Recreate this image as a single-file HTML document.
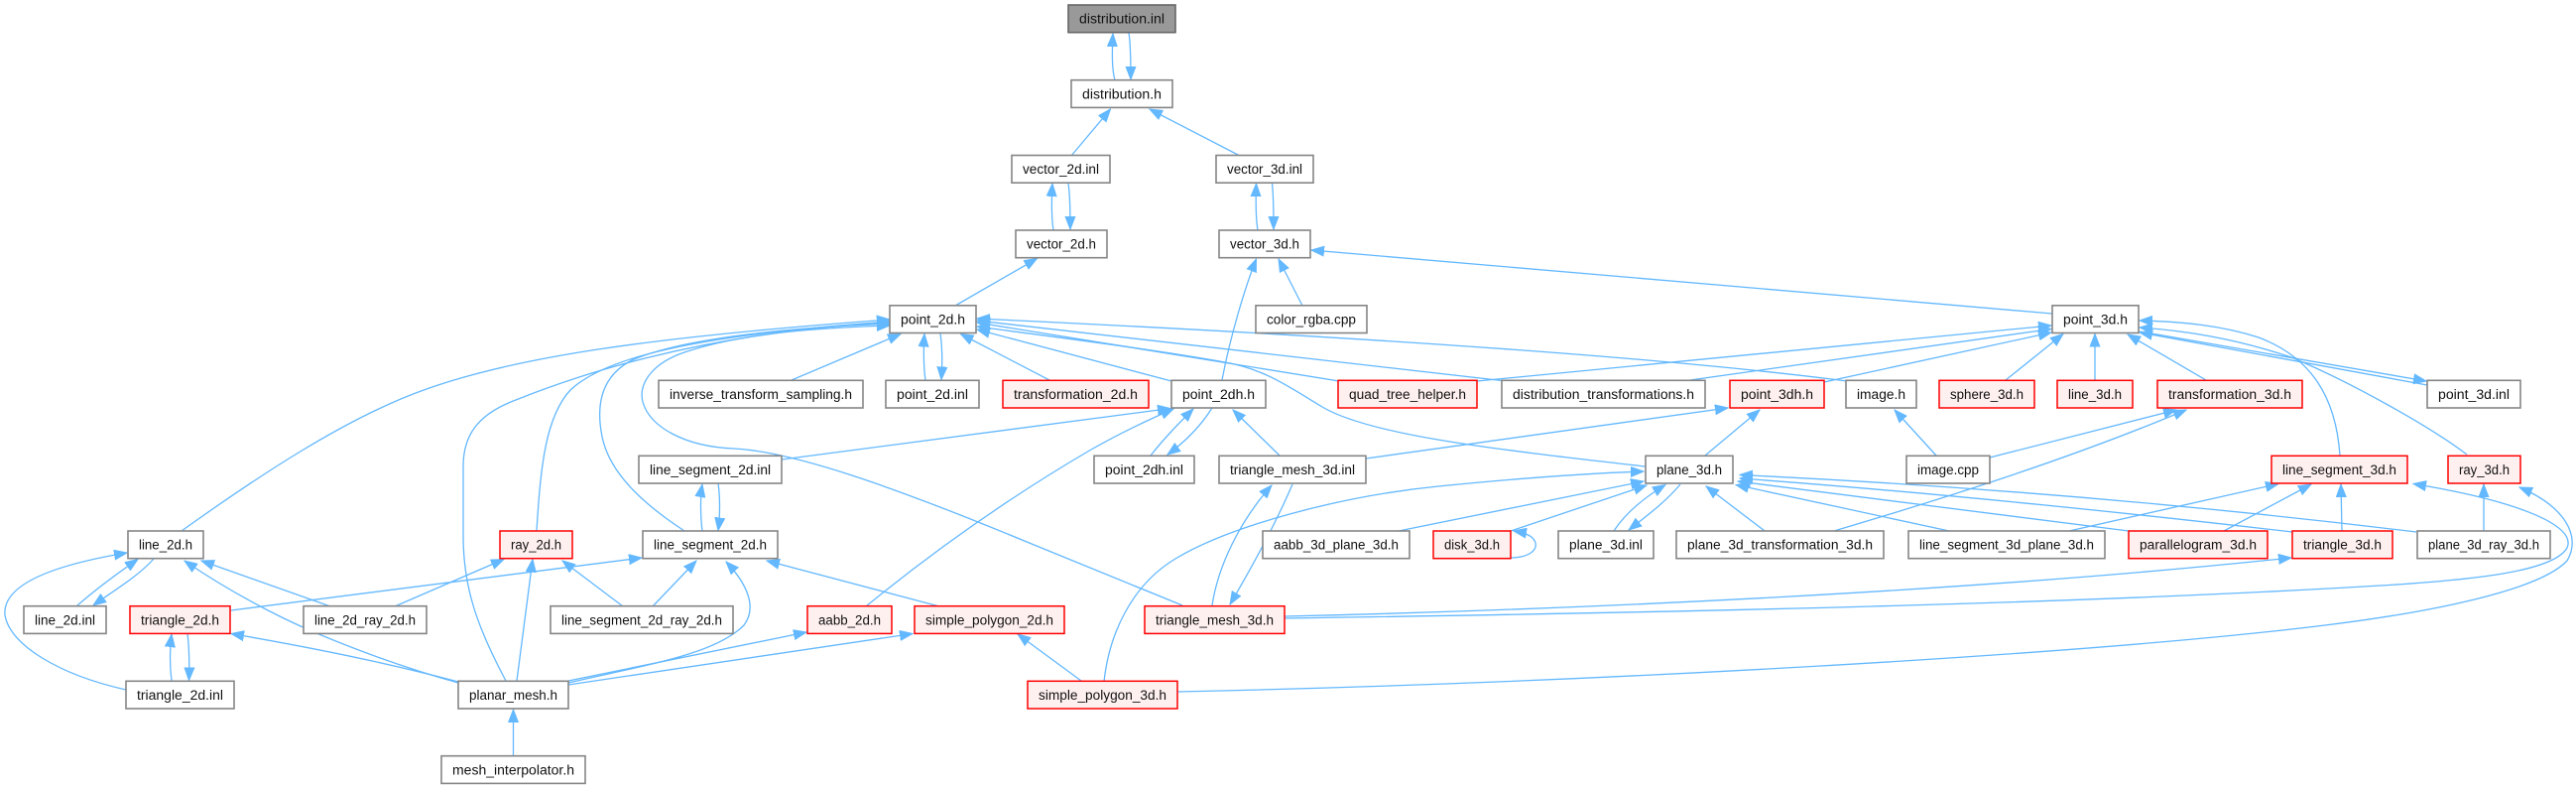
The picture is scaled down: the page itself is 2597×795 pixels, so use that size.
<!DOCTYPE html>
<html><head><meta charset="utf-8"><style>
html,body{margin:0;padding:0;background:#fff;}
svg{display:block;}
text{font-family:"Liberation Sans",Arial,sans-serif;font-size:13.5px;fill:#111;}
.e{fill:none;stroke:#63b8ff;stroke-width:1.3;marker-end:url(#a);}
.n{fill:none;stroke:#63b8ff;stroke-width:1.3;}
.b{fill:#fff;stroke:#858585;stroke-width:1.6;}
.r{fill:#fff0f0;stroke:#ff0000;stroke-width:1.5;}
.g{fill:#999;stroke:#666;stroke-width:1.6;}
</style></head><body>
<svg width="2597" height="795" viewBox="0 0 2597 795" xmlns="http://www.w3.org/2000/svg">
<defs>
<marker id="a" markerUnits="userSpaceOnUse" markerWidth="14" markerHeight="11" refX="13" refY="5.5" orient="auto">
<path d="M0,0.5 L13,5.5 L0,10.5 z" fill="#63b8ff" stroke="#63b8ff" stroke-width="1"/>
</marker>
</defs>
<!-- edges -->
<path class="e" d="M1124,81 C1121,70 1121,55 1122,34"/>
<path class="e" d="M1138,33 C1140,45 1140,65 1140,80"/>
<path class="e" d="M1080,157 L1119.5,110"/>
<path class="e" d="M1250,157 L1159,110"/>
<path class="e" d="M1062,232 C1060,220 1060,200 1061,185"/>
<path class="e" d="M1077,185 C1079,198 1079,215 1079,231"/>
<path class="e" d="M1268,232 C1266,220 1266,200 1266.5,185"/>
<path class="e" d="M1282.5,185 C1284,198 1284,215 1284,231"/>
<path class="e" d="M2069,316 L1322,252"/>
<path class="e" d="M963,308 L1045.5,260.5"/>
<path class="e" d="M1232,383 C1240,340 1255,290 1266.5,261"/>
<path class="e" d="M1313,308 L1289,261"/>
<path class="e" d="M798,383 L908,336.5"/>
<path class="e" d="M933,383 C931,370 931,350 932,336.5"/>
<path class="e" d="M948,336 C950,350 950,368 949,382.5"/>
<path class="e" d="M1058,383 L968.5,336.5"/>
<path class="e" d="M1181,384 L985,332"/>
<path class="e" d="M1350,384 L985,325"/>
<path class="e" d="M1514,383.5 L985,323"/>
<path class="e" d="M1862,384 Q1600,350 985,321"/>
<path class="e" d="M1659,470 C1500,452 1380,438 1333,410 C1300,390 1275,372 1235,365 C1150,350 1050,338 985,329"/>
<path class="e" d="M1192,610 L1040,548 C900,490 800,455 740,452 C690,450 655,430 648,405 C643,385 660,365 690,355 C750,335 830,330 897,328"/>
<path class="e" d="M690,535 C655,512 615,480 607,440 C600,405 608,378 637,363 C690,340 800,330 897,326"/>
<path class="e" d="M541,535 C545,470 550,420 575,393 C610,360 700,338 897,324"/>
<path class="e" d="M510,686 C480,630 467,590 467,540 L467,470 C467,440 480,418 520,403 C570,383 700,335 897,325"/>
<path class="e" d="M183,535 C260,480 350,420 430,392 C520,360 650,340 897,322"/>
<path class="e" d="M77,611 C95,595 118,578 139,563.5"/>
<path class="e" d="M155,563 C140,580 115,595 94,610"/>
<path class="e" d="M127,695 C60,680 10,650 5,620 C2,590 50,570 128,557"/>
<path class="e" d="M333,611 L203,565"/>
<path class="e" d="M462,688 C390,668 320,640 280,620 C250,605 215,585 186,565"/>
<path class="e" d="M462,687 C380,665 300,650 233,638.5"/>
<path class="e" d="M173,686 C171,670 171,655 173,639"/>
<path class="e" d="M189,638 C191,655 191,670 190.5,685.5"/>
<path class="e" d="M233,615 L647,562"/>
<path class="e" d="M398,611 L508,563.5"/>
<path class="e" d="M708,535 C706,520 706,500 708,488"/>
<path class="e" d="M724,487 C726,500 726,520 724,534.5"/>
<path class="e" d="M628,611 L567,565"/>
<path class="e" d="M658,611 L702,565"/>
<path class="e" d="M521,686 L537,563.5"/>
<path class="e" d="M573,688 C650,670 720,660 750,630 C765,610 750,585 732,566"/>
<path class="e" d="M573,686 L813,637"/>
<path class="e" d="M573,690 L920,638.5"/>
<path class="e" d="M947,611 L773,565"/>
<path class="e" d="M873,611 C960,540 1040,488 1100,453 C1130,436 1160,422 1183,412"/>
<path class="e" d="M788,463 L1180,411.5"/>
<path class="e" d="M517.5,762 L517.5,715"/>
<path class="e" d="M1090,686 L1026,639"/>
<path class="e" d="M1160,459 C1175,440 1190,425 1203,412"/>
<path class="e" d="M1222,411 C1210,430 1195,445 1177,458"/>
<path class="e" d="M1290,459 L1243,413"/>
<path class="e" d="M1222,610 C1228,570 1250,525 1282,489"/>
<path class="e" d="M1303,488 C1285,530 1260,575 1240,609"/>
<path class="e" d="M1377,462 L1742,411"/>
<path class="e" d="M1719,459 L1774,413"/>
<path class="e" d="M1952,459 L1910,413"/>
<path class="e" d="M2006,461 L2194,413"/>
<path class="e" d="M1849,535 C1950,505 2080,465 2204,413"/>
<path class="e" d="M1489,384 L2068,328"/>
<path class="e" d="M1704,383 L2068,331.5"/>
<path class="e" d="M1839,385 L2068,335"/>
<path class="e" d="M2022,383 L2080,336.5"/>
<path class="e" d="M2112,383 L2112,336.5"/>
<path class="e" d="M2224,383 L2145,337"/>
<path class="e" d="M2359,459 C2355,400 2330,360 2277,340 C2240,328 2200,324 2157,323"/>
<path class="e" d="M2487,458 C2450,430 2370,385 2310,360 C2250,340 2200,333 2157,330"/>
<path class="e" d="M2157,334 L2446,384"/>
<path class="e" d="M2447,388 L2157,335"/>
<path class="e" d="M2086,535 L2297,487.5"/>
<path class="e" d="M2242,535 L2330,488"/>
<path class="e" d="M2361,535 L2360,488"/>
<path class="e" d="M2504,535 L2504,488"/>
<path class="e" d="M1295,621 C1600,614 2000,595 2310,562"/>
<path class="e" d="M1295,623 C1700,617 2100,608 2400,590 C2500,584 2575,575 2588,552 C2598,530 2540,505 2433,487.5"/>
<path class="e" d="M1187,697 C1600,688 2100,660 2344,630 C2450,617 2560,595 2588,565 C2603,540 2585,510 2540,491"/>
<path class="e" d="M1113,687 C1118,640 1140,590 1185,563 C1240,530 1350,500 1450,490 C1530,482 1600,477 1657,475"/>
<path class="e" d="M1410,535 L1657,485"/>
<path class="e" d="M1523,535 L1660,489"/>
<path class="e" d="M1523,562 C1540,562 1550,555 1548,547 C1546,540 1538,537 1526,535"/>
<path class="e" d="M1627,535 C1640,515 1660,500 1679,488.5"/>
<path class="e" d="M1694,488 C1680,505 1660,520 1642,534"/>
<path class="e" d="M1779,535 L1720,490"/>
<path class="e" d="M1965,535 L1750,488.5"/>
<path class="e" d="M2146,535 L1752,485"/>
<path class="e" d="M2311,536 Q2000,500 1754,482"/>
<path class="e" d="M2436,536 Q2100,495 1754,478.5"/>

<!-- nodes -->
<g>
<rect class="g" x="1077" y="5" width="108" height="27.7"/><text x="1131" y="23.7" text-anchor="middle" textLength="86" lengthAdjust="spacingAndGlyphs">distribution.inl</text>
<rect class="b" x="1080" y="80.7" width="102" height="27.7"/><text x="1131" y="99.4" text-anchor="middle" textLength="80" lengthAdjust="spacingAndGlyphs">distribution.h</text>
<rect class="b" x="1020" y="156.5" width="99" height="27.7"/><text x="1069.5" y="175.2" text-anchor="middle" textLength="77" lengthAdjust="spacingAndGlyphs">vector_2d.inl</text>
<rect class="b" x="1226" y="156.5" width="98" height="27.7"/><text x="1275" y="175.2" text-anchor="middle" textLength="76" lengthAdjust="spacingAndGlyphs">vector_3d.inl</text>
<rect class="b" x="1024" y="232" width="92" height="27.7"/><text x="1070" y="250.7" text-anchor="middle" textLength="70" lengthAdjust="spacingAndGlyphs">vector_2d.h</text>
<rect class="b" x="1229" y="232" width="92" height="27.7"/><text x="1275" y="250.7" text-anchor="middle" textLength="70" lengthAdjust="spacingAndGlyphs">vector_3d.h</text>
<rect class="b" x="897" y="307.8" width="87" height="27.7"/><text x="940.5" y="326.5" text-anchor="middle" textLength="65" lengthAdjust="spacingAndGlyphs">point_2d.h</text>
<rect class="b" x="1266" y="307.8" width="112" height="27.7"/><text x="1322" y="326.5" text-anchor="middle" textLength="90" lengthAdjust="spacingAndGlyphs">color_rgba.cpp</text>
<rect class="b" x="2069" y="307.8" width="87" height="27.7"/><text x="2112.5" y="326.5" text-anchor="middle" textLength="65" lengthAdjust="spacingAndGlyphs">point_3d.h</text>

<rect class="b" x="664" y="383.3" width="206" height="27.7"/><text x="767" y="402" text-anchor="middle" textLength="184" lengthAdjust="spacingAndGlyphs">inverse_transform_sampling.h</text>
<rect class="b" x="893" y="383.3" width="94" height="27.7"/><text x="940" y="402" text-anchor="middle" textLength="72" lengthAdjust="spacingAndGlyphs">point_2d.inl</text>
<rect class="r" x="1011" y="383.3" width="147" height="27.7"/><text x="1084.5" y="402" text-anchor="middle" textLength="125" lengthAdjust="spacingAndGlyphs">transformation_2d.h</text>
<rect class="b" x="1181" y="383.3" width="95" height="27.7"/><text x="1228.5" y="402" text-anchor="middle" textLength="73" lengthAdjust="spacingAndGlyphs">point_2dh.h</text>
<rect class="r" x="1349" y="383.3" width="140" height="27.7"/><text x="1419" y="402" text-anchor="middle" textLength="118" lengthAdjust="spacingAndGlyphs">quad_tree_helper.h</text>
<rect class="b" x="1514" y="383.3" width="205" height="27.7"/><text x="1616.5" y="402" text-anchor="middle" textLength="183" lengthAdjust="spacingAndGlyphs">distribution_transformations.h</text>
<rect class="r" x="1744" y="383.3" width="95" height="27.7"/><text x="1791.5" y="402" text-anchor="middle" textLength="73" lengthAdjust="spacingAndGlyphs">point_3dh.h</text>
<rect class="b" x="1861" y="383.3" width="71" height="27.7"/><text x="1896.5" y="402" text-anchor="middle" textLength="49" lengthAdjust="spacingAndGlyphs">image.h</text>
<rect class="r" x="1955" y="383.3" width="96" height="27.7"/><text x="2003" y="402" text-anchor="middle" textLength="74" lengthAdjust="spacingAndGlyphs">sphere_3d.h</text>
<rect class="r" x="2074" y="383.3" width="76" height="27.7"/><text x="2112" y="402" text-anchor="middle" textLength="54" lengthAdjust="spacingAndGlyphs">line_3d.h</text>
<rect class="r" x="2175" y="383.3" width="146" height="27.7"/><text x="2248" y="402" text-anchor="middle" textLength="124" lengthAdjust="spacingAndGlyphs">transformation_3d.h</text>
<rect class="b" x="2447" y="383.3" width="94" height="27.7"/><text x="2494" y="402" text-anchor="middle" textLength="72" lengthAdjust="spacingAndGlyphs">point_3d.inl</text>

<rect class="b" x="644" y="459.3" width="144" height="27.7"/><text x="716" y="478" text-anchor="middle" textLength="122" lengthAdjust="spacingAndGlyphs">line_segment_2d.inl</text>
<rect class="b" x="1103" y="459.3" width="101" height="27.7"/><text x="1153.5" y="478" text-anchor="middle" textLength="79" lengthAdjust="spacingAndGlyphs">point_2dh.inl</text>
<rect class="b" x="1229" y="459.3" width="148" height="27.7"/><text x="1303" y="478" text-anchor="middle" textLength="126" lengthAdjust="spacingAndGlyphs">triangle_mesh_3d.inl</text>
<rect class="b" x="1659" y="459.3" width="88" height="27.7"/><text x="1703" y="478" text-anchor="middle" textLength="66" lengthAdjust="spacingAndGlyphs">plane_3d.h</text>
<rect class="b" x="1922" y="459.3" width="84" height="27.7"/><text x="1964" y="478" text-anchor="middle" textLength="62" lengthAdjust="spacingAndGlyphs">image.cpp</text>
<rect class="r" x="2290" y="459.3" width="137" height="27.7"/><text x="2358.5" y="478" text-anchor="middle" textLength="115" lengthAdjust="spacingAndGlyphs">line_segment_3d.h</text>
<rect class="r" x="2468" y="459.3" width="73" height="27.7"/><text x="2504.5" y="478" text-anchor="middle" textLength="51" lengthAdjust="spacingAndGlyphs">ray_3d.h</text>

<rect class="b" x="129" y="535" width="76" height="27.7"/><text x="167" y="553.7" text-anchor="middle" textLength="54" lengthAdjust="spacingAndGlyphs">line_2d.h</text>
<rect class="r" x="504" y="535" width="73" height="27.7"/><text x="540.5" y="553.7" text-anchor="middle" textLength="51" lengthAdjust="spacingAndGlyphs">ray_2d.h</text>
<rect class="b" x="648" y="535" width="136" height="27.7"/><text x="716" y="553.7" text-anchor="middle" textLength="114" lengthAdjust="spacingAndGlyphs">line_segment_2d.h</text>
<rect class="b" x="1273" y="535" width="148" height="27.7"/><text x="1347" y="553.7" text-anchor="middle" textLength="126" lengthAdjust="spacingAndGlyphs">aabb_3d_plane_3d.h</text>
<rect class="r" x="1445" y="535" width="78" height="27.7"/><text x="1484" y="553.7" text-anchor="middle" textLength="56" lengthAdjust="spacingAndGlyphs">disk_3d.h</text>
<rect class="b" x="1571" y="535" width="96" height="27.7"/><text x="1619" y="553.7" text-anchor="middle" textLength="74" lengthAdjust="spacingAndGlyphs">plane_3d.inl</text>
<rect class="b" x="1690" y="535" width="209" height="27.7"/><text x="1794.5" y="553.7" text-anchor="middle" textLength="187" lengthAdjust="spacingAndGlyphs">plane_3d_transformation_3d.h</text>
<rect class="b" x="1924" y="535" width="198" height="27.7"/><text x="2023" y="553.7" text-anchor="middle" textLength="176" lengthAdjust="spacingAndGlyphs">line_segment_3d_plane_3d.h</text>
<rect class="r" x="2146" y="535" width="140" height="27.7"/><text x="2216" y="553.7" text-anchor="middle" textLength="118" lengthAdjust="spacingAndGlyphs">parallelogram_3d.h</text>
<rect class="r" x="2311" y="535" width="101" height="27.7"/><text x="2361.5" y="553.7" text-anchor="middle" textLength="79" lengthAdjust="spacingAndGlyphs">triangle_3d.h</text>
<rect class="b" x="2437" y="535" width="134" height="27.7"/><text x="2504" y="553.7" text-anchor="middle" textLength="112" lengthAdjust="spacingAndGlyphs">plane_3d_ray_3d.h</text>

<rect class="b" x="24" y="610.7" width="83" height="27.7"/><text x="65.5" y="629.4" text-anchor="middle" textLength="61" lengthAdjust="spacingAndGlyphs">line_2d.inl</text>
<rect class="r" x="131" y="610.7" width="101" height="27.7"/><text x="181.5" y="629.4" text-anchor="middle" textLength="79" lengthAdjust="spacingAndGlyphs">triangle_2d.h</text>
<rect class="b" x="306" y="610.7" width="124" height="27.7"/><text x="368" y="629.4" text-anchor="middle" textLength="102" lengthAdjust="spacingAndGlyphs">line_2d_ray_2d.h</text>
<rect class="b" x="555" y="610.7" width="184" height="27.7"/><text x="647" y="629.4" text-anchor="middle" textLength="162" lengthAdjust="spacingAndGlyphs">line_segment_2d_ray_2d.h</text>
<rect class="r" x="814" y="610.7" width="85" height="27.7"/><text x="856.5" y="629.4" text-anchor="middle" textLength="63" lengthAdjust="spacingAndGlyphs">aabb_2d.h</text>
<rect class="r" x="922" y="610.7" width="151" height="27.7"/><text x="997.5" y="629.4" text-anchor="middle" textLength="129" lengthAdjust="spacingAndGlyphs">simple_polygon_2d.h</text>
<rect class="r" x="1154" y="610.7" width="141" height="27.7"/><text x="1224.5" y="629.4" text-anchor="middle" textLength="119" lengthAdjust="spacingAndGlyphs">triangle_mesh_3d.h</text>

<rect class="b" x="127" y="686.3" width="109" height="27.7"/><text x="181.5" y="705" text-anchor="middle" textLength="87" lengthAdjust="spacingAndGlyphs">triangle_2d.inl</text>
<rect class="b" x="462" y="686.3" width="111" height="27.7"/><text x="517.5" y="705" text-anchor="middle" textLength="89" lengthAdjust="spacingAndGlyphs">planar_mesh.h</text>
<rect class="r" x="1036" y="686.3" width="151" height="27.7"/><text x="1111.5" y="705" text-anchor="middle" textLength="129" lengthAdjust="spacingAndGlyphs">simple_polygon_3d.h</text>

<rect class="b" x="445" y="761.7" width="145" height="27.7"/><text x="517.5" y="780.4" text-anchor="middle" textLength="123" lengthAdjust="spacingAndGlyphs">mesh_interpolator.h</text>
</g>
</svg>
</body></html>
